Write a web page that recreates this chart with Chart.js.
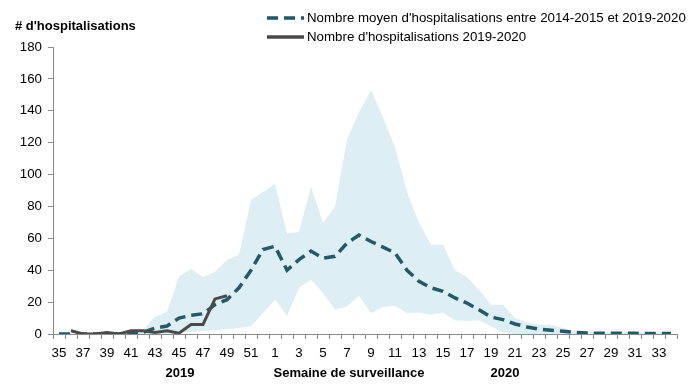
<!DOCTYPE html>
<html>
<head>
<meta charset="utf-8">
<script src="https://cdn.jsdelivr.net/npm/chart.js@4"></script>
<style>
    html, body { margin: 0; padding: 0; background: #fff; }
    #wrap { width: 694px; height: 392px; position: relative; }
</style>
</head>
<body>
<div id="wrap"><canvas id="hospChart"></canvas></div>
<script>
// semaines de surveillance 35 (2019) -> 34 (2020)
const weeks = ["35","36","37","38","39","40","41","42","43","44","45","46","47","48","49","50","51","52",
    "1","2","3","4","5","6","7","8","9","10","11","12","13","14","15","16","17",
    "18","19","20","21","22","23","24","25","26","27","28","29","30","31","32","33","34"];

// nombre moyen 2014-2015 -> 2019-2020
const meanHosp = [0,0,0,0,0,0,1,1,3.7,5,10,11.7,12.7,18.4,21.5,29,40,53,
    55,40,46.6,52,47.6,48.7,57,62,58,54.5,50.8,40,33,29,26.7,22.6,19.4,
    15.2,10.6,9,6.3,4.4,3,2.3,1.7,1,0.6,0.5,0.5,0.5,0.4,0.3,0.3,0.3];

// enveloppe min / max des saisons
const bandHigh = [0,0,0,0,0,0,0,2.5,11,14,36,40.7,35.7,39,46.6,49.7,84,89,
    94,63,64,92.5,69.6,80,122,139,153,136,117,89,70,56,56,40,35.7,
    27.8,18.4,18.4,10,7.3,5.8,5.8,3.7,1.7,1.5,1.2,1,1,1,1,1,1];
const bandLow = [0,0,0,0,0,0,0,0,0,0,0.5,1.5,2,2.5,3,3.7,4.8,13,
    21.5,11.5,29,34,25.7,15.2,17.3,24,13,17,17.7,13,13.5,12,13.5,8.5,8.3,
    8.5,4.8,1,0,0,0,0,0,0,0,0,0,0,0,0,0,0];

// saison 2019-2020 (jusqu'à la semaine 49)
const hosp2019 = [null,2,0,0,1,0,2,2,1,2,0.5,6,6,22,24];

const yTicks = [0,20,40,60,80,100,120,140,160,180];

const legendItems = [
    { text: "Nombre moyen d'hospitalisations entre 2014-2015 et 2019-2020", color: "#215a68", dash: [11, 6] },
    { text: "Nombre d'hospitalisations 2019-2020", color: "#4a4a4a", dash: [] }
];

const extrasPlugin = {
    id: "extras",
    afterDraw(chart) {
        const ctx = chart.ctx;
        const x = chart.scales.x;
        ctx.save();
        ctx.fillStyle = "#000";
        ctx.textBaseline = "middle";

        // titre axe y
        ctx.font = "bold 13px 'Liberation Sans', Arial, sans-serif";
        ctx.textAlign = "left";
        ctx.fillText("# d'hospitalisations", 15, 26);

        // années et titre axe x
        ctx.textAlign = "center";
        ctx.fillText("2019", x.getPixelForValue(weeks.indexOf("45")) + 1, 373);
        ctx.fillText("Semaine de surveillance", x.getPixelForValue(weeks.indexOf("7")) + 2, 373);
        ctx.fillText("2020", x.getPixelForValue(weeks.indexOf("20")) + 2, 373);

        // légende
        ctx.font = "13.3px 'Liberation Sans', Arial, sans-serif";
        ctx.textAlign = "left";
        legendItems.forEach(function (item, i) {
            const y = 18 + i * 19;
            ctx.strokeStyle = item.color;
            ctx.lineWidth = 3.5;
            ctx.setLineDash(item.dash);
            ctx.beginPath();
            ctx.moveTo(267, y);
            ctx.lineTo(304, y);
            ctx.stroke();
            ctx.fillText(item.text, 307, y);
        });
        ctx.restore();
    }
};

document.addEventListener("DOMContentLoaded", function () {

    const canvas = document.getElementById("hospChart");

    Chart.defaults.font.family = "'Liberation Sans', Arial, sans-serif";
    Chart.defaults.font.size = 13.3;
    Chart.defaults.color = "#000";

    new Chart(canvas, {
        type: "line",
        data: {
            labels: weeks,
            datasets: [
                {
                    label: "Nombre d'hospitalisations 2019-2020",
                    data: hosp2019,
                    borderColor: "#4a4a4a",
                    borderWidth: 3,
                    pointRadius: 0,
                    tension: 0,
                    fill: false
                },
                {
                    label: "Nombre moyen d'hospitalisations entre 2014-2015 et 2019-2020",
                    data: meanHosp,
                    borderColor: "#215a68",
                    borderDash: [11, 6],
                    borderWidth: 3.5,
                    pointRadius: 0,
                    tension: 0,
                    fill: false
                },
                {
                    label: "max",
                    data: bandHigh,
                    borderWidth: 0,
                    borderColor: "rgba(0,0,0,0)",
                    backgroundColor: "#ddeef5",
                    pointRadius: 0,
                    tension: 0,
                    fill: 3
                },
                {
                    label: "min",
                    data: bandLow,
                    borderWidth: 0,
                    borderColor: "rgba(0,0,0,0)",
                    pointRadius: 0,
                    tension: 0,
                    fill: false
                }
            ]
        },
        options: {
            responsive: true,
            maintainAspectRatio: false,
            animation: false,
            layout: {
                padding: { top: 47, right: 17, left: 0, bottom: 0 }
            },
            plugins: {
                legend: { display: false },
                tooltip: { enabled: false }
            },
            scales: {
                x: {
                    offset: true,
                    afterFit: function (scale) { scale.height = 58; },
                    grid: {
                        offset: true,
                        drawOnChartArea: false,
                        drawTicks: true,
                        tickLength: 5,
                        color: "#8c8c8c",
                        tickColor: "#8c8c8c"
                    },
                    border: { color: "#8c8c8c", width: 1 },
                    ticks: {
                        autoSkip: false,
                        maxRotation: 0,
                        padding: 6,
                        callback: function (value, index) {
                            return index % 2 === 0 ? weeks[index] : "";
                        }
                    }
                },
                y: {
                    min: 0,
                    max: 180,
                    afterFit: function (scale) { scale.width = 53; },
                    afterBuildTicks: function (scale) {
                        scale.ticks = yTicks.map(function (v) { return { value: v }; });
                    },
                    grid: {
                        drawOnChartArea: false,
                        tickLength: 5,
                        color: "#8c8c8c",
                        tickColor: "#8c8c8c"
                    },
                    border: { color: "#8c8c8c", width: 1 },
                    ticks: { padding: 6 }
                }
            }
        },
        plugins: [extrasPlugin]
    });

});
</script>
</body>
</html>
